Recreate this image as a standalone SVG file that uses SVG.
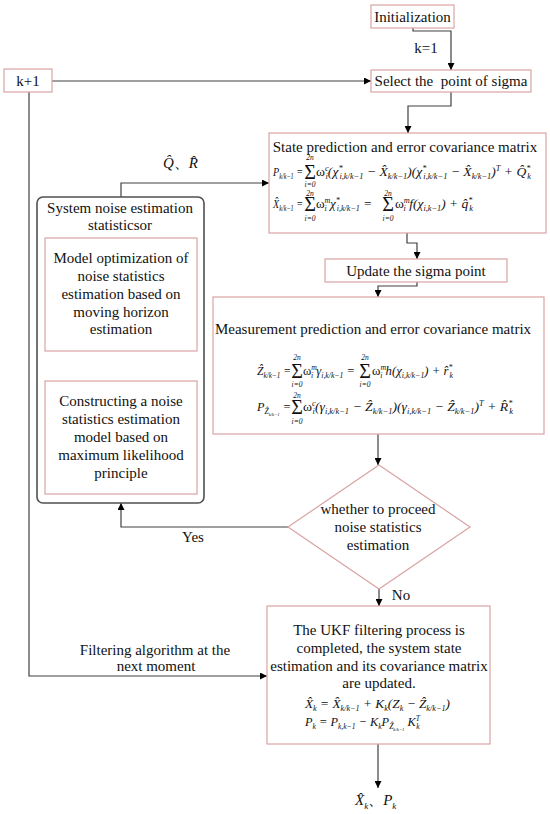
<svg xmlns="http://www.w3.org/2000/svg" width="550" height="814" viewBox="0 0 550 814">
<defs>
<marker id="ar" viewBox="0 0 10 10" refX="10" refY="5" markerWidth="7" markerHeight="7" markerUnits="userSpaceOnUse" orient="auto">
<path d="M0,0 L10,5 L0,10 z" fill="#000"/>
</marker>
<style>
.box{fill:#fff;stroke:#d9a3a3;stroke-width:1.2}
.sys{fill:#fff;stroke:#505050;stroke-width:1.6}
.t{font-family:"Liberation Serif","Times New Roman","DejaVu Serif",serif;font-size:15px;fill:#111;text-anchor:middle}
.f{font-family:"Liberation Serif","Times New Roman","DejaVu Serif",serif;font-size:13px;font-style:italic;fill:#111}
.sg{font-family:"Liberation Serif","Times New Roman","DejaVu Serif",serif;font-size:20px;fill:#111;text-anchor:middle}
.lim{font-family:"Liberation Serif","Times New Roman","DejaVu Serif",serif;font-size:7.5px;font-style:italic;fill:#111;text-anchor:middle}
.n{font-style:normal}
.sb{font-size:8px;baseline-shift:-3px}
.sp{font-size:8px;baseline-shift:5px}
.c{fill:none;stroke:#404040;stroke-width:1.2}
</style>
</defs>
<g id="connectors">
<path class="c" d="M413,28 V31 H451 V70" marker-end="url(#ar)"/>
<path class="c" d="M52,81 H371" marker-end="url(#ar)"/>
<path class="c" d="M29,92 V676 H267" marker-end="url(#ar)"/>
<path class="c" d="M451,92 V106 H408 V133" marker-end="url(#ar)"/>
<path class="c" d="M121,197 V183 H269" marker-end="url(#ar)"/>
<path class="c" d="M407,233 V243 H417 V259" marker-end="url(#ar)"/>
<path class="c" d="M417,282 V286 H378 V297" marker-end="url(#ar)"/>
<path class="c" d="M378,434 V465" marker-end="url(#ar)"/>
<path class="c" d="M288,527 H121 V503" marker-end="url(#ar)"/>
<path class="c" d="M121,381 V351" marker-end="url(#ar)"/>
<path class="c" d="M379,589 V606" marker-end="url(#ar)"/>
<path class="c" d="M378,744 V788" marker-end="url(#ar)"/>
<text class="t" x="426" y="53">k=1</text>
<text class="t" x="193" y="542">Yes</text>
<text class="t" x="401" y="600">No</text>
<text class="t" x="155" y="655">Filtering algorithm at the</text>
<text class="t" x="156" y="671">next moment</text>
<text class="f" x="163" y="168" style="font-size:15px">Q̂<tspan class="n">、</tspan>R̂</text>
</g>
<g id="init">
<rect class="box" x="371" y="5" width="83" height="23"/>
<text class="t" x="412.5" y="22">Initialization</text>
</g>
<g id="kplus1">
<rect class="box" x="4" y="69" width="48" height="23"/>
<text class="t" x="28" y="86">k+1</text>
</g>
<g id="select">
<rect class="box" x="371" y="70" width="160" height="22"/>
<text class="t" x="451" y="86" xml:space="preserve">Select the  point of sigma</text>
</g>
<g id="state">
<rect class="box" x="269" y="133" width="277" height="100"/>
<text class="t" x="405" y="152">State prediction and error covariance matrix</text>
<text class="f" x="273" y="176" textLength="30" lengthAdjust="spacingAndGlyphs">P<tspan class="sb">k/k−1</tspan> =</text>
<text class="sg" x="310" y="179">Σ</text>
<text class="lim" x="310" y="160">2n</text>
<text class="lim" x="310" y="187">i=0</text>
<text class="f" x="316" y="176" textLength="215" lengthAdjust="spacingAndGlyphs"><tspan class="n">ω</tspan><tspan class="sp">c</tspan><tspan class="sb" dx="-3">i</tspan>(χ<tspan class="sp">*</tspan><tspan class="sb" dx="-3">i,k/k−1</tspan> − X̂<tspan class="sb">k/k−1</tspan>)(χ<tspan class="sp">*</tspan><tspan class="sb" dx="-3">i,k/k−1</tspan> − X̂<tspan class="sb">k/k−1</tspan>)<tspan class="sp">T</tspan> + Q̂<tspan class="sp">*</tspan><tspan class="sb" dx="-3">k</tspan></text>
<text class="f" x="273" y="208" textLength="30" lengthAdjust="spacingAndGlyphs">X̂<tspan class="sb">k/k−1</tspan> =</text>
<text class="sg" x="310" y="211">Σ</text>
<text class="lim" x="310" y="196">2n</text>
<text class="lim" x="310" y="221">i=0</text>
<text class="f" x="316" y="208" textLength="56" lengthAdjust="spacingAndGlyphs"><tspan class="n">ω</tspan><tspan class="sp">m</tspan><tspan class="sb" dx="-6">i</tspan> χ<tspan class="sp">*</tspan><tspan class="sb" dx="-3">i,k/k−1</tspan> =</text>
<text class="sg" x="388" y="211">Σ</text>
<text class="lim" x="388" y="196">2n</text>
<text class="lim" x="388" y="221">i=0</text>
<text class="f" x="395" y="208" textLength="78" lengthAdjust="spacingAndGlyphs"><tspan class="n">ω</tspan><tspan class="sp">m</tspan><tspan class="sb" dx="-6">i</tspan> f(χ<tspan class="sb">i,k−1</tspan>) + q̂<tspan class="sp">*</tspan><tspan class="sb" dx="-3">k</tspan></text>
</g>
<g id="update">
<rect class="box" x="325" y="259" width="182" height="23"/>
<text class="t" x="416" y="276">Update the sigma point</text>
</g>
<g id="measurement">
<rect class="box" x="213" y="297" width="331" height="137"/>
<text class="t" x="373" y="334">Measurement prediction and error covariance matrix</text>
<text class="f" x="257" y="375" textLength="34" lengthAdjust="spacingAndGlyphs">Ẑ<tspan class="sb">k/k−1</tspan> =</text>
<text class="sg" x="297" y="378">Σ</text>
<text class="lim" x="297" y="360">2n</text>
<text class="lim" x="297" y="387">i=0</text>
<text class="f" x="303" y="375" textLength="52" lengthAdjust="spacingAndGlyphs"><tspan class="n">ω</tspan><tspan class="sp">m</tspan><tspan class="sb" dx="-6">i</tspan> γ<tspan class="sb">i,k/k−1</tspan> =</text>
<text class="sg" x="365" y="378">Σ</text>
<text class="lim" x="365" y="360">2n</text>
<text class="lim" x="365" y="387">i=0</text>
<text class="f" x="372" y="375" textLength="81" lengthAdjust="spacingAndGlyphs"><tspan class="n">ω</tspan><tspan class="sp">m</tspan><tspan class="sb" dx="-6">i</tspan> h(χ<tspan class="sb">i,k/k−1</tspan>) + r̂<tspan class="sp">*</tspan><tspan class="sb" dx="-3">k</tspan></text>
<text class="f" x="257" y="411" textLength="34" lengthAdjust="spacingAndGlyphs">P<tspan class="sb">Ẑ</tspan><tspan style="font-size:5px;baseline-shift:-5px">k/k−1</tspan> =</text>
<text class="sg" x="297" y="414">Σ</text>
<text class="lim" x="297" y="398">2n</text>
<text class="lim" x="297" y="424">i=0</text>
<text class="f" x="303" y="411" textLength="210" lengthAdjust="spacingAndGlyphs"><tspan class="n">ω</tspan><tspan class="sp">c</tspan><tspan class="sb" dx="-3">i</tspan>(γ<tspan class="sb">i,k/k−1</tspan> − Ẑ<tspan class="sb">k/k−1</tspan>)(γ<tspan class="sb">i,k/k−1</tspan> − Ẑ<tspan class="sb">k/k−1</tspan>)<tspan class="sp">T</tspan> + R̂<tspan class="sp">*</tspan><tspan class="sb" dx="-3">k</tspan></text>
</g>
<g id="system">
<rect class="sys" x="37" y="197" width="167" height="306" rx="6"/>
<text class="t" x="120" y="213">System noise estimation</text>
<text class="t" x="120" y="230">statisticsor</text>
</g>
<g id="model">
<rect class="box" x="45" y="238" width="152" height="113"/>
<text class="t" x="121" y="263">Model optimization of</text>
<text class="t" x="121" y="281">noise statistics</text>
<text class="t" x="121" y="299">estimation based on</text>
<text class="t" x="121" y="317">moving horizon</text>
<text class="t" x="121" y="334">estimation</text>
</g>
<g id="construct">
<rect class="box" x="45" y="381" width="152" height="113"/>
<text class="t" x="121" y="406">Constructing a noise</text>
<text class="t" x="121" y="424">statistics estimation</text>
<text class="t" x="121" y="442">model based on</text>
<text class="t" x="121" y="460">maximum likelihood</text>
<text class="t" x="121" y="478">principle</text>
</g>
<g id="decision">
<polygon class="box" points="379,465 470,527 379,589 288,527"/>
<text class="t" x="378" y="514">whether to proceed</text>
<text class="t" x="378" y="532">noise statistics</text>
<text class="t" x="378" y="550">estimation</text>
</g>
<g id="ukf">
<rect class="box" x="267" y="606" width="223" height="138"/>
<text class="t" x="379" y="635">The UKF filtering process is</text>
<text class="t" x="379" y="653">completed, the system state</text>
<text class="t" x="379" y="671">estimation and its covariance matrix</text>
<text class="t" x="379" y="688">are updated.</text>
<text class="f" x="305" y="708" textLength="145" lengthAdjust="spacingAndGlyphs">X̂<tspan class="sb">k</tspan> = X̂<tspan class="sb">k/k−1</tspan> + K<tspan class="sb">k</tspan>(Z<tspan class="sb">k</tspan> − Ẑ<tspan class="sb">k/k−1</tspan>)</text>
<text class="f" x="305" y="726" textLength="115" lengthAdjust="spacingAndGlyphs">P<tspan class="sb">k</tspan> = P<tspan class="sb">k,k−1</tspan> − K<tspan class="sb">k</tspan>P<tspan class="sb">Ẑ</tspan><tspan style="font-size:5px;baseline-shift:-5px">k/k−1</tspan> K<tspan class="sp">T</tspan><tspan class="sb" dx="-4">k</tspan></text>
</g>
<g id="output">
<text class="f" x="355" y="805" style="font-size:15px">X̂<tspan style="font-size:9px;baseline-shift:-4px">k</tspan><tspan class="n">、</tspan>P<tspan style="font-size:9px;baseline-shift:-4px">k</tspan></text>
</g>
</svg>
